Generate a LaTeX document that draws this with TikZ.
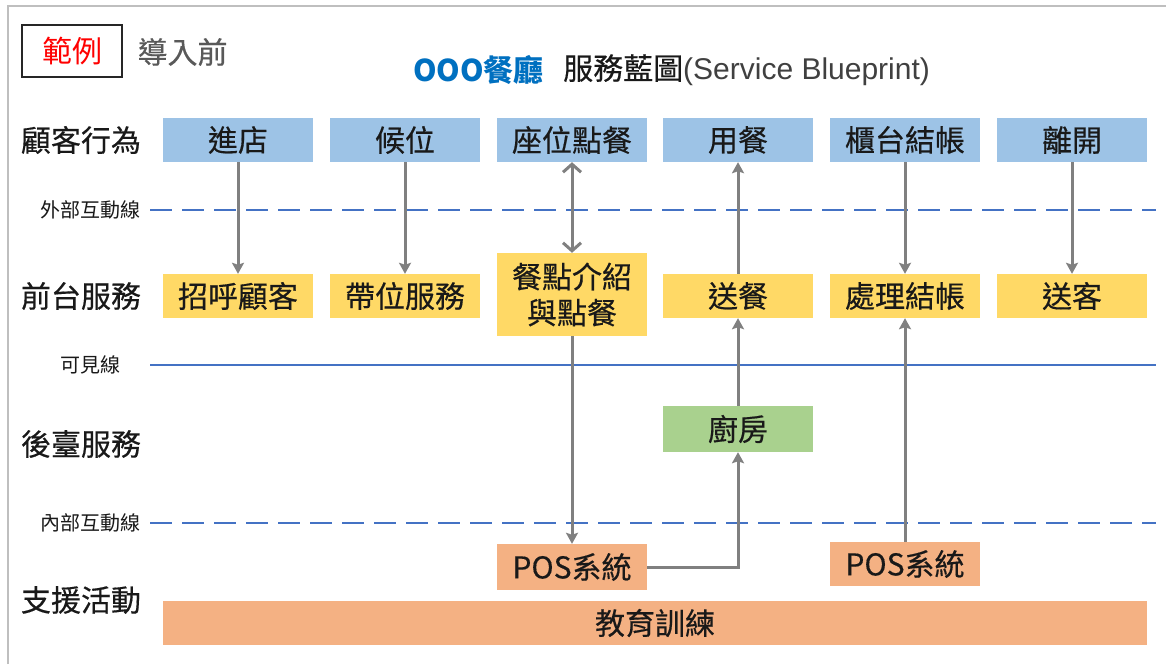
\documentclass[tikz,border=0pt]{standalone}
\usepackage{fontspec}
\usepackage{tikz}
\usetikzlibrary{arrows.meta}
\newfontfamily\cjk{Noto Sans CJK TC}
\newfontfamily\cjkm[FakeBold=0.4]{Noto Sans CJK TC}
\newfontfamily\latin{Liberation Sans}
\definecolor{custblue}{HTML}{9DC3E6}
\definecolor{frontyel}{HTML}{FFD966}
\definecolor{backgreen}{HTML}{A9D18E}
\definecolor{supporg}{HTML}{F4B183}
\definecolor{linblue}{HTML}{4472C4}
\definecolor{titleblue}{HTML}{0070C0}
\definecolor{arrgray}{HTML}{808080}

\begin{document}
\begin{tikzpicture}[x=1pt,y=-1pt,
    stagebox/.style={minimum width=150pt,minimum height=44pt,inner sep=0pt,
      font=\cjkm\fontsize{30}{36}\selectfont,text=black!90},
    actbox/.style={stagebox,fill=custblue},
    frontbox/.style={stagebox,fill=frontyel},
    backbox/.style={stagebox,fill=backgreen},
    suppbox/.style={stagebox,fill=supporg},
    rowlabel/.style={font=\cjkm\fontsize{30}{36}\selectfont,text=black!90},
    linelabel/.style={font=\cjk\fontsize{20}{24}\selectfont,text=black!90},
    arr/.style={arrgray,line width=3pt,-{Stealth[length=11pt,width=12pt,inset=2pt]}},
    dblarr/.style={arrgray,line width=3pt,
      {Straight Barb[length=8pt,width=18pt]}-{Straight Barb[length=8pt,width=18pt]}},
    dashline/.style={linblue,line width=2pt,dash pattern=on 22pt off 10pt},
    solidline/.style={linblue,line width=2pt}]
                        \useasboundingbox (0,0) rectangle (1166,664);
                        \fill[white] (0,0) rectangle (1166,664);
                        \draw[black!25,line width=2pt] (8,664) -- (8,6) -- (1166,6);

                        % header
                        \node[draw=black!85,line width=2pt,minimum width=100pt,minimum height=52pt,
                          text=red,font=\cjk\fontsize{30}{36}\selectfont] (sample) at (72,51) {範例};
                        \node[anchor=west,text=black!65,font=\cjkm\fontsize{30}{36}\selectfont] (before) at (134,52) {導入前};
                        \node[anchor=west,inner sep=0pt,text=titleblue,font=\cjk\bfseries\fontsize{30}{36}\selectfont] (shop) at (413,70) {OOO餐廳};
                        \node[anchor=west,inner sep=0pt,text=black!90,font=\cjkm\fontsize{30}{36}\selectfont] (title) at (563,70)
                          {服務藍圖{\latin\color{black!75}(Service Blueprint)}};

                        % row and line labels
                        \node[rowlabel] (rowcust) at (81,140) {顧客行為};
                        \node[rowlabel] (rowfront) at (81,296) {前台服務};
                        \node[rowlabel] (rowback) at (81,444) {後臺服務};
                        \node[rowlabel] (rowsupp) at (81,600) {支援活動};
                        \node[linelabel] (lblout) at (90,210) {外部互動線};
                        \node[linelabel] (lblsee) at (90,365) {可見線};
                        \node[linelabel] (lblin) at (90,523) {內部互動線};

                        \coordinate (outa) at (150,210); \coordinate (outb) at (1156,210);
                        \coordinate (seea) at (150,365); \coordinate (seeb) at (1156,365);
                        \coordinate (ina) at (150,523); \coordinate (inb) at (1156,523);
                        \draw[dashline] (outa) -- (outb);
                        \draw[solidline] (seea) -- (seeb);
                        \draw[dashline] (ina) -- (inb);

                        % customer actions
                        \node[actbox] (enter) at (238,140) {進店};
                        \node[actbox] (wait) at (405,140) {候位};
                        \node[actbox] (order) at (572,140) {座位點餐};
                        \node[actbox] (eat) at (738,140) {用餐};
                        \node[actbox] (pay) at (905,140) {櫃台結帳};
                        \node[actbox] (leave) at (1072,140) {離開};

                        % front stage
                        \node[frontbox] (greet) at (238,296) {招呼顧客};
                        \node[frontbox] (seat) at (405,296) {帶位服務};
                        \node[frontbox,minimum height=83pt,align=center] (menu) at (572,294.5) {餐點介紹\\與點餐};
                        \node[frontbox] (serve) at (738,296) {送餐};
                        \node[frontbox] (bill) at (905,296) {處理結帳};
                        \node[frontbox] (bye) at (1072,296) {送客};

                        % back stage and support
                        \node[backbox,minimum height=46pt] (kitchen) at (738,429) {廚房};
                        \node[suppbox,minimum height=46pt] (posa) at (572,567) {POS系統};
                        \node[suppbox] (posb) at (905,564) {POS系統};
                        \node[suppbox,minimum width=984pt] (train) at (655,623) {教育訓練};

                        % connectors
                        \draw[arr] (enter) -- (greet);
                        \draw[arr] (wait) -- (seat);
                        \draw[dblarr] (order) -- (menu);
                        \draw[arr] (serve) -- (eat);
                        \draw[arr] (pay) -- (bill);
                        \draw[arr] (leave) -- (bye);
                        \draw[arr] (menu) -- (posa);
                        \draw[arr] (kitchen) -- (serve);
                        \draw[arr] (posa.east) -| (kitchen.south);
                        \draw[arr] (posb) -- (bill);
                    \end{tikzpicture}
\end{document}
